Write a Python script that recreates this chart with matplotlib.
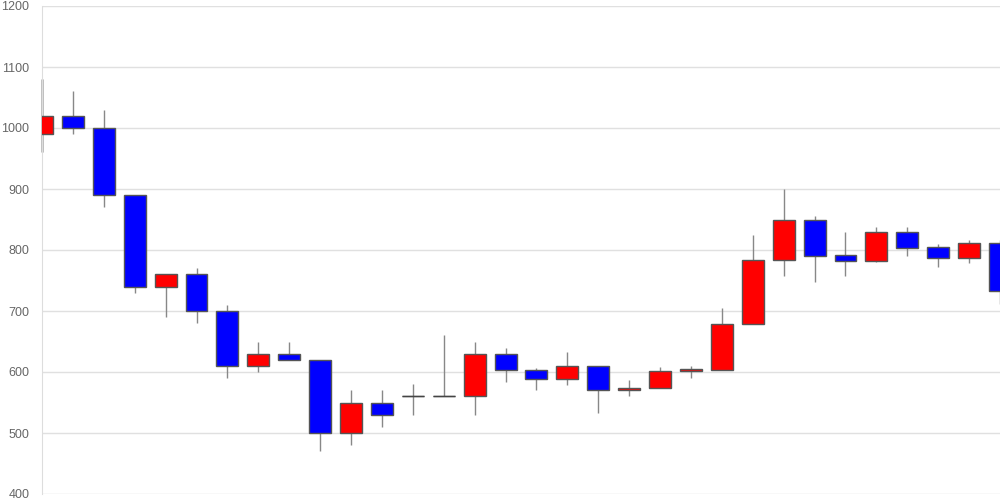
import matplotlib
matplotlib.use("Agg")
import matplotlib.pyplot as plt
import numpy as np

opens  = [990, 1020, 1000, 890, 740, 760, 700, 610, 630, 620, 500, 550, 560, 560, 560, 630,
          603, 588, 610, 570, 573, 601, 604, 678, 783, 850, 792, 782, 830, 805, 787, 811]
closes = [1020, 1000, 890, 740, 760, 700, 610, 630, 620, 500, 550, 530, 560, 560, 630, 603,
          588, 610, 570, 574, 601, 605, 678, 783, 850, 790, 782, 830, 804, 787, 811, 732]
highs  = [1080, 1060, 1030, 890, 760, 770, 710, 650, 650, 620, 570, 570, 580, 660, 650, 640,
          607, 632, 610, 587, 608, 610, 705, 825, 900, 855, 830, 837, 838, 810, 816, 817]
lows   = [960, 990, 870, 730, 690, 680, 590, 600, 620, 470, 480, 510, 530, 560, 530, 583,
          570, 579, 532, 561, 573, 590, 604, 678, 757, 748, 757, 780, 790, 772, 778, 711]
yticks = [400, 500, 600, 700, 800, 900, 1000, 1100, 1200]

plt.rcParams['font.family'] = ['Liberation Sans', 'DejaVu Sans']

fig = plt.figure(figsize=(10, 5), dpi=100)
ax = fig.add_axes([0.042, 0.012, 0.958, 0.976])

x = np.arange(len(opens))
o = np.array(opens); c = np.array(closes)
colors = ['#ff0000' if cc >= oo else '#0000ff' for oo, cc in zip(o, c)]

ax.vlines(x, lows, highs, color='#888888', linewidth=1, zorder=2)
ax.vlines(x[:1], np.array(lows[:1]), np.array(highs[:1]), color='#bbbbbb',
          linewidth=2, zorder=2, clip_on=False)
bottoms = np.minimum(o, c)
heights = np.abs(c - o)
ax.bar(x, heights, bottom=bottoms, width=0.71, color=colors,
       edgecolor='#555555', linewidth=1, zorder=3)
doji = x[heights == 0]
ax.hlines(o[heights == 0], doji - 0.36, doji + 0.36, color='#444444', linewidth=1, zorder=3)

ax.set_xlim(0, len(opens) - 1)
ax.set_ylim(400, 1200)
ax.set_yticks(yticks)
ax.set_yticklabels([str(t) for t in yticks])
ax.set_xticks([])
ax.grid(axis='y', color='#e0e0e0', linewidth=1, zorder=0)
ax.set_axisbelow(True)
for s in ['top', 'right', 'bottom']:
    ax.spines[s].set_visible(False)
ax.spines['left'].set_color('#dddddd')
ax.tick_params(axis='y', length=0, pad=9, labelsize=9, labelcolor='#666666')

fig.savefig('out.png', dpi=100)
